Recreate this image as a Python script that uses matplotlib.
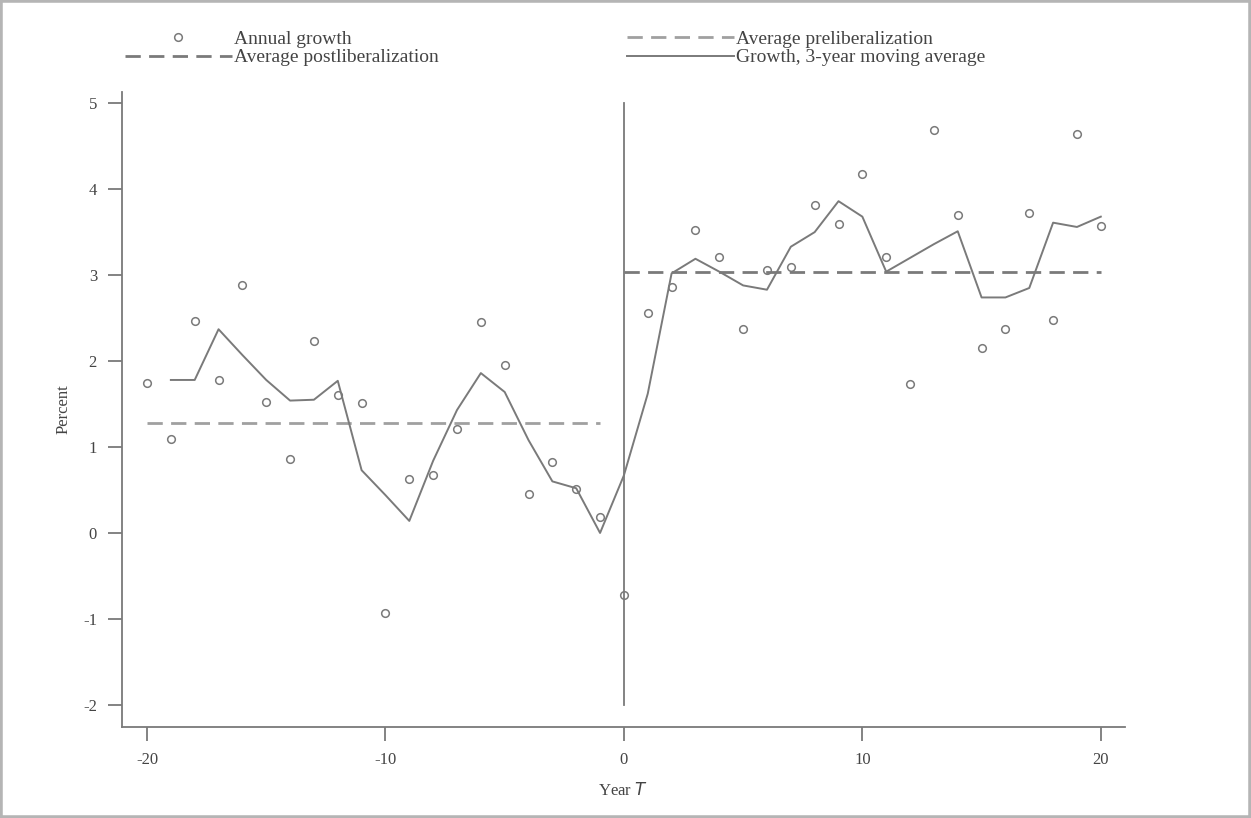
import matplotlib

matplotlib.use("Agg")
import matplotlib.pyplot as plt
from matplotlib.patches import Rectangle

# Year relative to liberalization
years = list(range(-20, 21))

# Annual growth (percent)
annual_growth = [
    1.75, 1.09, 2.47, 1.78, 2.88, 1.52, 0.86, 2.23, 1.60, 1.51,
    -0.93, 0.63, 0.68, 1.21, 2.46, 1.95, 0.45, 0.82, 0.51, 0.18,
    -0.72,
    2.56, 2.86, 3.52, 3.21, 2.37, 3.06, 3.10, 3.81, 3.60, 4.18,
    3.21, 1.73, 4.69, 3.70, 2.15, 2.37, 3.72, 2.48, 4.64, 3.57,
]

# 3-year moving average, years -19 .. 20
ma_years = list(range(-19, 21))
moving_avg = [
    1.78, 1.78, 2.37, 2.07, 1.78, 1.54, 1.55, 1.77, 0.73,
    0.44, 0.14, 0.84, 1.43, 1.86, 1.64, 1.08, 0.60, 0.52, 0.00,
    0.67,
    1.62, 3.02, 3.19, 3.04, 2.88, 2.83, 3.33, 3.50, 3.86, 3.68,
    3.04, 3.20, 3.36, 3.51, 2.74, 2.74, 2.85, 3.61, 3.56, 3.68,
]

pre_years = [-20, -1]
pre_avg = 1.28
post_years = [0, 20]
post_avg = 3.04

y_ticks = [-2, -1, 0, 1, 2, 3, 4, 5]
x_ticks = [-20, -10, 0, 10, 20]

plt.rcParams["font.family"] = ["Liberation Serif", "DejaVu Serif"]
plt.rcParams["axes.unicode_minus"] = False
GRAY = "#7a7a7a"
TEXT = "#444444"

fig = plt.figure(figsize=(12.51, 8.18), dpi=100)
ax = fig.add_axes([0.0975, 0.111, 0.8015, 0.7765])

ax.axvline(0, ymin=(-2 + 2.26) / 7.39, ymax=(5 + 2.26) / 7.39, color=GRAY, linewidth=1.3)

h_pts, = ax.plot(years, annual_growth, linestyle="none", marker="o", markersize=5.5,
                 markerfacecolor="none", markeredgecolor=GRAY, markeredgewidth=1.1,
                 label="Annual growth")
h_post, = ax.plot(post_years, [post_avg, post_avg], color=GRAY, linewidth=2.0,
                  dashes=(5.5, 3), label="Average postliberalization")
h_pre, = ax.plot(pre_years, [pre_avg, pre_avg], color="#a0a0a0", linewidth=2.0,
                 dashes=(5.5, 3), label="Average preliberalization")
h_ma, = ax.plot(ma_years, moving_avg, color=GRAY, linewidth=1.4,
                label="Growth, 3-year moving average")

ax.set_xlim(-21.05, 21.0)
ax.set_ylim(-2.26, 5.13)
ax.set_xticks(x_ticks)
ax.set_yticks(y_ticks)
ax.spines["top"].set_visible(False)
ax.spines["right"].set_visible(False)
for side in ("left", "bottom"):
    ax.spines[side].set_color(GRAY)
    ax.spines[side].set_linewidth(1.3)
ax.tick_params(direction="out", length=10, width=1.3, color=GRAY,
               labelsize=12, labelcolor=TEXT)
ax.tick_params(axis="y", pad=8)
ax.tick_params(axis="x", pad=8)

ax.set_ylabel("Percent", fontsize=12, color=TEXT, labelpad=8)
ax.set_xlabel("Year $\\mathit{T}$", fontsize=12, color=TEXT, labelpad=10)

fig.legend(handles=[h_pts, h_post, h_pre, h_ma], loc="upper left",
           bbox_to_anchor=(0.0999, 0.963), ncol=2, frameon=False, fontsize=14,
           handlelength=5.5, handletextpad=0.1, columnspacing=9.7,
           labelspacing=0.05, borderpad=0, borderaxespad=0, labelcolor=TEXT)

fig.patches.append(Rectangle((0, 0), 1, 1, transform=fig.transFigure, fill=False,
                             edgecolor="#b5b5b5", linewidth=4))

fig.savefig("out.png", dpi=100)
